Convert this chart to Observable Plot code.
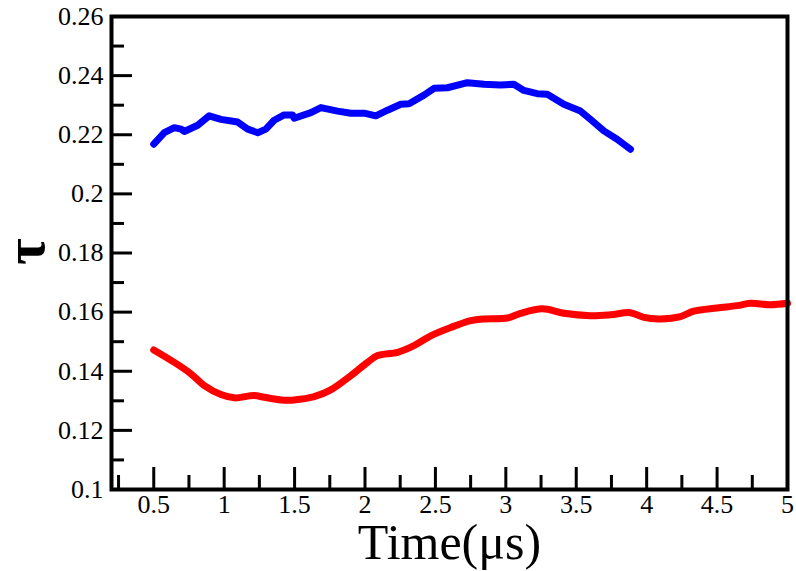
<!DOCTYPE html>
<html>
<head>
<meta charset="utf-8">
<script src="https://cdn.jsdelivr.net/npm/d3@7"></script>
<script src="https://cdn.jsdelivr.net/npm/@observablehq/plot@0.6"></script>
<style>
  html, body { margin: 0; padding: 0; background: #fff; }
  #chart svg { display: block; }
  #chart svg text { font-family: "Liberation Serif", "Times New Roman", serif; }
</style>
</head>
<body>
<div id="chart"></div>
<script>
// Relaxation parameter τ over time for two runs
const blueTime = [0.5, 0.575, 0.646, 0.694, 0.717, 0.812, 0.894, 0.977, 1.096, 1.167, 1.238, 1.296, 1.355, 1.426, 1.486, 1.497, 1.616, 1.687, 1.805, 1.899, 1.994, 2.077, 2.16, 2.254, 2.313, 2.419, 2.49, 2.585, 2.727, 2.845, 2.963, 3.057, 3.128, 3.223, 3.294, 3.412, 3.53, 3.601, 3.696, 3.79, 3.885];
const blueTau = [0.2168, 0.2207, 0.2224, 0.2219, 0.2211, 0.2232, 0.2264, 0.2252, 0.2243, 0.2219, 0.2207, 0.2219, 0.2249, 0.2267, 0.2267, 0.2256, 0.2275, 0.2292, 0.228, 0.2273, 0.2273, 0.2264, 0.2283, 0.2303, 0.2305, 0.2334, 0.2357, 0.2359, 0.2376, 0.2371, 0.2368, 0.2371, 0.235, 0.2339, 0.2337, 0.2303, 0.228, 0.2252, 0.2213, 0.2185, 0.2151];

const redTime = [0.5, 0.646, 0.765, 0.859, 0.977, 1.072, 1.213, 1.284, 1.403, 1.497, 1.639, 1.757, 1.899, 2.018, 2.089, 2.23, 2.348, 2.467, 2.609, 2.751, 2.845, 3.011, 3.105, 3.259, 3.412, 3.601, 3.743, 3.885, 3.98, 4.098, 4.24, 4.334, 4.5, 4.642, 4.736, 4.878, 5.0];
const redTau = [0.1472, 0.143, 0.1391, 0.1351, 0.1321, 0.131, 0.1318, 0.1312, 0.1303, 0.1303, 0.1314, 0.1337, 0.1385, 0.143, 0.1453, 0.1464, 0.1487, 0.152, 0.1548, 0.1571, 0.1577, 0.158, 0.1596, 0.1611, 0.1596, 0.1588, 0.1591, 0.1598, 0.1582, 0.1577, 0.1585, 0.1603, 0.1614, 0.1622, 0.163, 0.1625, 0.163];

const xMajor = [0.5, 1, 1.5, 2, 2.5, 3, 3.5, 4, 4.5, 5];
const xMinor = [0.25, 0.75, 1.25, 1.75, 2.25, 2.75, 3.25, 3.75, 4.25, 4.75];
const yMajor = [0.1, 0.12, 0.14, 0.16, 0.18, 0.2, 0.22, 0.24, 0.26];
const yMinor = [0.11, 0.13, 0.15, 0.17, 0.19, 0.21, 0.23, 0.25];

const xTitle = "Time(μs)";
const yTitle = "τ";

const blue = blueTime.map((t, i) => ({t, tau: blueTau[i]}));
const red = redTime.map((t, i) => ({t, tau: redTau[i]}));

const fmt = d => String(+d.toFixed(2));
const serif = "Liberation Serif, Times New Roman, serif";

const chart = Plot.plot({
  width: 796,
  height: 571,
  marginLeft: 111,
  marginRight: 9,
  marginTop: 16,
  marginBottom: 82,
  style: {fontFamily: serif, background: "#fff", color: "#000", overflow: "visible"},
  x: {domain: [0.2, 5]},
  y: {domain: [0.1, 0.26]},
  marks: [
    Plot.line(red, {x: "t", y: "tau", stroke: "#ff0000", strokeWidth: 7, strokeLinejoin: "round", strokeLinecap: "round", curve: "catmull-rom"}),
    Plot.line(blue, {x: "t", y: "tau", stroke: "#0000ff", strokeWidth: 7, strokeLinejoin: "round", strokeLinecap: "round"}),
    // inward tick marks
    Plot.axisX(xMajor, {tickSize: -22, strokeWidth: 3, fill: "none", label: null}),
    Plot.axisX(xMinor, {tickSize: -14, strokeWidth: 3, fill: "none", label: null}),
    Plot.axisY(yMajor, {tickSize: -21, strokeWidth: 3, fill: "none", label: null}),
    Plot.axisY(yMinor, {tickSize: -13, strokeWidth: 3, fill: "none", label: null}),
    // tick labels
    Plot.text(xMajor, {x: d => d, text: fmt, frameAnchor: "bottom", lineAnchor: "top", dy: 5, fontSize: 26, fontFamily: serif}),
    Plot.text(yMajor, {y: d => d, text: fmt, frameAnchor: "left", textAnchor: "end", dx: -8, fontSize: 26, fontFamily: serif}),
    Plot.frame({stroke: "#000", strokeWidth: 4}),
    // axis titles
    Plot.text([xTitle], {text: d => d, frameAnchor: "bottom", dy: 53, fontSize: 50, fontFamily: serif, lineAnchor: "middle"}),
    Plot.text([yTitle], {text: d => d, frameAnchor: "left", dx: -86, dy: 12, rotate: -90, fontSize: 58, fontFamily: serif, fontWeight: "bold", lineAnchor: "middle"})
  ]
});

document.getElementById("chart").appendChild(chart);
</script>
</body>
</html>
